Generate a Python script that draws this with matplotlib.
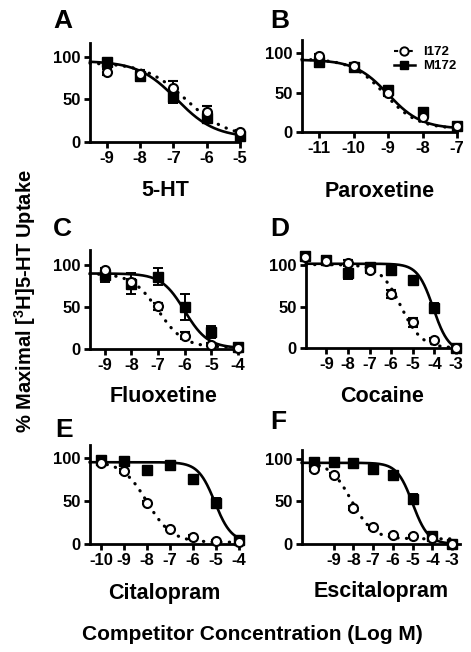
import numpy as np
import matplotlib
matplotlib.use('Agg')
import matplotlib.pyplot as plt
from matplotlib.lines import Line2D

plt.rcParams['font.family'] = ['Liberation Sans', 'DejaVu Sans']
plt.rcParams['font.weight'] = 'bold'
plt.rcParams['mathtext.fontset'] = 'custom'
plt.rcParams['mathtext.rm'] = 'Liberation Sans:bold'
plt.rcParams['mathtext.bf'] = 'Liberation Sans:bold'

W, H = 471, 652

# ---- data: log concentrations, % uptake, errors (I172 open, M172 filled) ----
a_x = [-9, -8, -7, -6, -5]
a_i172 = [82, 80, 63, 35, 12]
a_i172_err = [3, 4, 8, 7, 2]
a_m172 = [94, 77, 53, 28, 7]
a_m172_err = [3, 6, 7, 5, 2]

b_x = [-11, -10, -9, -8, -7]
b_i172 = [97, 84, 49, 19, 7]
b_i172_err = [2, 3, 3, 3, 2]
b_m172 = [89, 83, 53, 25, 7]
b_m172_err = [6, 4, 4, 4, 2]

c_x = [-9, -8, -7, -6, -5, -4]
c_i172 = [94, 80, 51, 16, 5, 1]
c_i172_err = [3, 3, 4, 4, 2, 1]
c_m172 = [88, 78, 86, 50, 20, 2]
c_m172_err = [8, 12, 10, 16, 7, 2]

d_x = [-10, -9, -8, -7, -6, -5, -4, -3]
d_i172 = [110, 105, 103, 95, 65, 31, 10, 0]
d_i172_err = [3, 3, 3, 4, 5, 5, 2, 1]
d_m172 = [111, 106, 91, 98, 95, 82, 49, 0]
d_m172_err = [3, 5, 8, 5, 3, 3, 6, 2]

e_x = [-10, -9, -8, -7, -6, -5, -4]
e_i172 = [94, 85, 48, 18, 8, 3, 2]
e_i172_err = [2, 2, 2, 2, 2, 2, 1]
e_m172 = [98, 96, 86, 92, 75, 48, 5]
e_m172_err = [2, 2, 2, 2, 3, 6, 2]

f_x = [-10, -9, -8, -7, -6, -5, -4, -3]
f_i172 = [88, 81, 42, 20, 10, 9, 7, 0]
f_i172_err = [2, 2, 2, 2, 2, 2, 2, 1]
f_m172 = [96, 96, 95, 88, 81, 53, 9, 0]
f_m172_err = [2, 2, 2, 3, 4, 6, 3, 2]

# fitted dose-response parameters: bottom, top, logIC50, hill
a_fit_i = [5, 93, -6.6, 0.7]
a_fit_m = [5, 95, -6.9, 0.75]
b_fit_i = [4, 93, -9.1, 0.9]
b_fit_m = [4, 92, -9.0, 0.9]
c_fit_i = [2, 90, -7.0, 0.9]
c_fit_m = [1, 90, -6.0, 1.0]
d_fit_i = [0, 101, -5.55, 0.9]
d_fit_m = [-5, 102, -4.05, 1.2]
e_fit_i = [2, 96, -8.0, 0.8]
e_fit_m = [2, 95, -5.05, 1.2]
f_fit_i = [6, 96, -8.1, 0.8]
f_fit_m = [0, 95, -5.0, 1.1]

names = ['5-HT', 'Paroxetine', 'Fluoxetine', 'Cocaine', 'Citalopram', 'Escitalopram']
letters = ['A', 'B', 'C', 'D', 'E', 'F']
xticks = [[-9, -8, -7, -6, -5], [-11, -10, -9, -8, -7], [-9, -8, -7, -6, -5, -4],
          [-9, -8, -7, -6, -5, -4, -3], [-10, -9, -8, -7, -6, -5, -4],
          [-9, -8, -7, -6, -5, -4, -3]]


def four_pl(x, p):
    bottom, top, logic50, hill = p
    return bottom + (top - bottom) / (1 + 10 ** ((x - logic50) * hill))


fig = plt.figure(figsize=(W / 100, H / 100), dpi=100)

# pixel layout: left, right, y of zero line, top ; xlim ; ymax ; xlabel baseline
layout = [
    (90, 240, 142, 43, (-9.5, -5), 116, 196),
    (302, 457, 132, 40, (-11.5, -7), 117, 197),
    (90, 238, 349, 250, (-9.55, -4), 118, 402),
    (306, 458, 348, 253, (-9.95, -2.9), 115, 402),
    (90, 239, 544, 445, (-10.48, -4), 115, 599),
    (302, 460, 544, 450, (-10.6, -2.6), 110, 597),
]
panels = [
    (a_x, a_i172, a_i172_err, a_m172, a_m172_err, a_fit_i, a_fit_m),
    (b_x, b_i172, b_i172_err, b_m172, b_m172_err, b_fit_i, b_fit_m),
    (c_x, c_i172, c_i172_err, c_m172, c_m172_err, c_fit_i, c_fit_m),
    (d_x, d_i172, d_i172_err, d_m172, d_m172_err, d_fit_i, d_fit_m),
    (e_x, e_i172, e_i172_err, e_m172, e_m172_err, e_fit_i, e_fit_m),
    (f_x, f_i172, f_i172_err, f_m172, f_m172_err, f_fit_i, f_fit_m),
]
letter_pos = [(53, 28), (270, 28), (53, 236), (270, 236), (55, 437), (270, 429)]

for k, (lay, pan) in enumerate(zip(layout, panels)):
    l, r, y0, yt, xl, ymax, lab_y = lay
    ax = fig.add_axes([l / W, 1 - y0 / H, (r - l) / W, (y0 - yt) / H])
    xs, yi, ei, ym, em, fi, fm = pan
    xx = np.linspace(xl[0], max(xticks[k]), 300)
    ax.plot(xx, four_pl(xx, fm), color='black', lw=1.9, zorder=2, clip_on=False)
    ax.plot(xx, four_pl(xx, fi), color='black', lw=2.3, zorder=2, clip_on=False,
            linestyle=(0, (0.1, 2.6)), dash_capstyle='round')
    ax.errorbar(xs, ym, yerr=em, fmt='s', color='black', ms=6.5, elinewidth=1.4,
                capsize=3.5, capthick=1.4, zorder=3, clip_on=False)
    ax.errorbar(xs, yi, yerr=ei, fmt='o', color='black', mfc='white', mec='black',
                mew=1.5, ms=6.5, elinewidth=1.4, capsize=3.5, capthick=1.4,
                zorder=4, clip_on=False)
    ax.set_xlim(xl)
    ax.set_ylim(0, ymax)
    ax.set_xticks(xticks[k])
    ax.set_xticklabels([str(t) for t in xticks[k]])
    ax.set_yticks([0, 50, 100])
    for s in ['top', 'right']:
        ax.spines[s].set_visible(False)
    for s in ['left', 'bottom']:
        ax.spines[s].set_linewidth(2)
    ax.tick_params(width=2, length=4.5, labelsize=12, pad=2)
    fig.text((l + r) / 2 / W, 1 - lab_y / H, names[k], fontsize=15.5,
             fontweight='bold', ha='center', va='baseline')
    fig.text(letter_pos[k][0] / W, 1 - letter_pos[k][1] / H, letters[k],
             fontsize=19, fontweight='bold', va='baseline', ha='left')
    if k == 1:
        hi = Line2D([], [], color='black', lw=1.5, linestyle=(0, (2, 1.5)),
                    marker='o', mfc='white', mec='black', mew=1.4, ms=6)
        hm = Line2D([], [], color='black', lw=1.8, marker='s', ms=6)
        ax.legend([hi, hm], ['I172', 'M172'], loc='upper right',
                  bbox_to_anchor=(456 / W, 1 - 46 / H), bbox_transform=fig.transFigure,
                  frameon=False, prop={'weight': 'bold', 'size': 9.5},
                  handlelength=1.6, labelspacing=0.15, handletextpad=0.6,
                  borderaxespad=0, borderpad=0)

fig.text(25 / W, 1 - 301 / H, '% Maximal [$^{3}$H]5-HT Uptake', rotation=90,
         fontsize=14.5, fontweight='bold', ha='center', va='center')
fig.text(252 / W, 1 - 640 / H, 'Competitor Concentration (Log M)',
         fontsize=15, fontweight='bold', ha='center', va='baseline')

fig.savefig('out.png', dpi=100)
